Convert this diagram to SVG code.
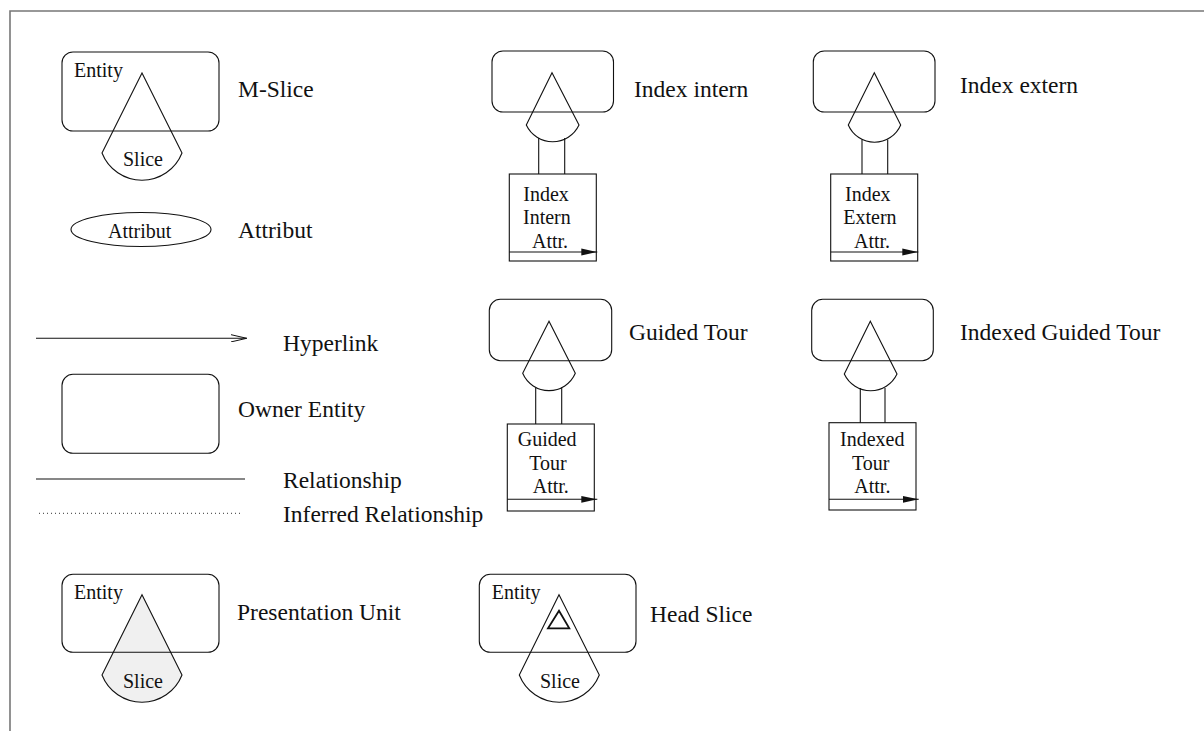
<svg xmlns="http://www.w3.org/2000/svg" width="1204" height="731" viewBox="0 0 1204 731">
  <style>
    .frame { fill: none; stroke: #777; stroke-width: 1.6; }
    .ln { fill: none; stroke: #111; stroke-width: 1.1; }
    .pu { fill: #f0f0f0; stroke: #111; stroke-width: 1.1; }
    .head { fill: none; stroke: #111; stroke-width: 1.8; }
    .sm { font-family: "Liberation Serif", "Times New Roman", serif; font-size: 20px; fill: #111; }
    .lb { font-family: "Liberation Serif", "Times New Roman", serif; font-size: 23.5px; fill: #111; }
  </style>
  <defs>
    <marker id="solidHead" viewBox="0 0 16 8" refX="16" refY="4" markerWidth="16" markerHeight="8" markerUnits="userSpaceOnUse" orient="auto">
      <path d="M0,0.6 L16,4 L0,7.4 Z" fill="#111"/>
    </marker>
    <marker id="openHead" viewBox="0 0 16 8" refX="16" refY="4" markerWidth="16" markerHeight="8" markerUnits="userSpaceOnUse" orient="auto">
      <path d="M0,0.3 L16,4 L0,7.7" fill="none" stroke="#111" stroke-width="1"/>
    </marker>
  </defs>

  <rect width="1204" height="731" fill="#fff"/>

  <!-- frame -->
  <path class="frame" d="M10,731 L10,11 L1204,11"/>

  <!-- M-Slice -->
  <g id="m-slice">
    <rect class="ln" x="62" y="52" width="157" height="79" rx="11"/>
    <path class="ln" d="M142,73 L102,153 A43,43 0 0 0 182,153 Z"/>
    <text class="sm" x="74" y="77">Entity</text>
    <text class="sm" x="123" y="166">Slice</text>
    <text class="lb" x="238" y="97">M-Slice</text>
  </g>

  <!-- Attribut -->
  <g id="attribut">
    <ellipse class="ln" cx="141" cy="229.5" rx="70" ry="17"/>
    <text class="sm" x="108" y="237.5">Attribut</text>
    <text class="lb" x="238" y="237.5">Attribut</text>
  </g>

  <!-- Hyperlink -->
  <g id="hyperlink">
    <line class="ln" x1="36" y1="338.3" x2="246.7" y2="338.3" marker-end="url(#openHead)"/>
    <text class="lb" x="283" y="350.5">Hyperlink</text>
  </g>

  <!-- Owner Entity -->
  <g id="owner-entity">
    <rect class="ln" x="62" y="374.3" width="157" height="79" rx="11"/>
    <text class="lb" x="238" y="416.5">Owner Entity</text>
  </g>

  <!-- Relationship -->
  <g id="relationship">
    <line class="ln" x1="36" y1="479" x2="245" y2="479"/>
    <text class="lb" x="283" y="487.5">Relationship</text>
  </g>

  <!-- Inferred Relationship -->
  <g id="inferred-relationship">
    <line x1="39" y1="513.3" x2="243" y2="513.3" stroke="#333" stroke-width="1" stroke-dasharray="1 3"/>
    <text class="lb" x="283" y="521.5">Inferred Relationship</text>
  </g>

  <!-- Presentation Unit -->
  <g id="presentation-unit">
    <path class="pu" d="M142,594.7 L102,675 A43,43 0 0 0 182,675 Z"/>
    <rect class="ln" x="62" y="574.3" width="157" height="78" rx="11"/>
    <text class="sm" x="74" y="599.3">Entity</text>
    <text class="sm" x="123" y="688.3">Slice</text>
    <text class="lb" x="237" y="620">Presentation Unit</text>
  </g>

  <!-- Head Slice -->
  <g id="head-slice">
    <rect class="ln" x="479.3" y="574.3" width="156.7" height="78" rx="11"/>
    <path class="ln" d="M559,594.7 L519.3,675 A43,43 0 0 0 599.3,675 Z"/>
    <path class="head" d="M559,610.7 L548,628.3 L569.3,628.3 Z"/>
    <text class="sm" x="491.7" y="599.3">Entity</text>
    <text class="sm" x="540" y="688.3">Slice</text>
    <text class="lb" x="650" y="621.5">Head Slice</text>
  </g>

  <!-- Index intern -->
  <g id="index-intern">
    <rect class="ln" x="492" y="51" width="121.5" height="61" rx="11"/>
    <path class="ln" d="M552,72.7 L526.3,125 A29.1,29.1 0 0 0 579,125 Z"/>
    <text class="lb" x="634" y="97">Index intern</text>
  </g>
  <g id="index-intern-attr">
    <rect class="ln" x="509.3" y="174" width="87" height="87"/>
    <text class="sm" x="523.3" y="201">Index</text>
    <text class="sm" x="523" y="224">Intern</text>
    <text class="sm" x="532" y="248">Attr.</text>
    <line class="ln" x1="509.3" y1="252" x2="597.3" y2="252" marker-end="url(#solidHead)"/>
  </g>

  <!-- Index extern -->
  <g id="index-extern">
    <rect class="ln" x="813.3" y="51" width="121.7" height="61" rx="11"/>
    <path class="ln" d="M874.3,72.7 L848.3,125 A28.5,28.5 0 0 0 900.7,125 Z"/>
    <text class="lb" x="960" y="93.3">Index extern</text>
  </g>
  <g id="index-extern-attr">
    <rect class="ln" x="830.7" y="174" width="87" height="87"/>
    <text class="sm" x="845" y="201">Index</text>
    <text class="sm" x="843.3" y="224">Extern</text>
    <text class="sm" x="854" y="248">Attr.</text>
    <line class="ln" x1="830.7" y1="252" x2="918.3" y2="252" marker-end="url(#solidHead)"/>
  </g>

  <!-- Guided Tour -->
  <g id="guided-tour">
    <rect class="ln" x="489.3" y="299.3" width="122.4" height="61.4" rx="11"/>
    <path class="ln" d="M549,321.3 L522.7,373.3 A28.6,28.6 0 0 0 575.3,373.3 Z"/>
    <text class="lb" x="629" y="340">Guided Tour</text>
  </g>
  <g id="guided-tour-attr">
    <rect class="ln" x="507.3" y="424" width="87" height="87"/>
    <text class="sm" x="517.7" y="445.7">Guided</text>
    <text class="sm" x="529.3" y="470">Tour</text>
    <text class="sm" x="532.7" y="493.3">Attr.</text>
    <line class="ln" x1="507.3" y1="499.3" x2="597.3" y2="499.3" marker-end="url(#solidHead)"/>
  </g>

  <!-- Indexed Guided Tour -->
  <g id="indexed-guided-tour">
    <rect class="ln" x="811.7" y="299.3" width="121.6" height="61.4" rx="11"/>
    <path class="ln" d="M870.3,321.3 L844.3,374 A29.1,29.1 0 0 0 897,374 Z"/>
    <text class="lb" x="960" y="340">Indexed Guided Tour</text>
  </g>
  <g id="indexed-tour-attr">
    <rect class="ln" x="829" y="422.7" width="87" height="87.3"/>
    <text class="sm" x="840" y="445.7">Indexed</text>
    <text class="sm" x="852" y="470">Tour</text>
    <text class="sm" x="854.3" y="493.3">Attr.</text>
    <line class="ln" x1="829" y1="499.3" x2="918.7" y2="499.3" marker-end="url(#solidHead)"/>
  </g>

  <!-- connectors: double stems from slice to its attribute box -->
  <g id="connectors" class="ln">
    <line x1="538.7" y1="138.1" x2="538.7" y2="174"/>
    <line x1="564.7" y1="138.1" x2="564.7" y2="174"/>
    <line x1="862" y1="139.4" x2="862" y2="174"/>
    <line x1="887.7" y1="139.4" x2="887.7" y2="174"/>
    <line x1="535.7" y1="387.6" x2="535.7" y2="424"/>
    <line x1="561.7" y1="387.6" x2="561.7" y2="424"/>
    <line x1="860.3" y1="387.9" x2="860.3" y2="422.7"/>
    <line x1="885" y1="387.9" x2="885" y2="422.7"/>
  </g>
</svg>
